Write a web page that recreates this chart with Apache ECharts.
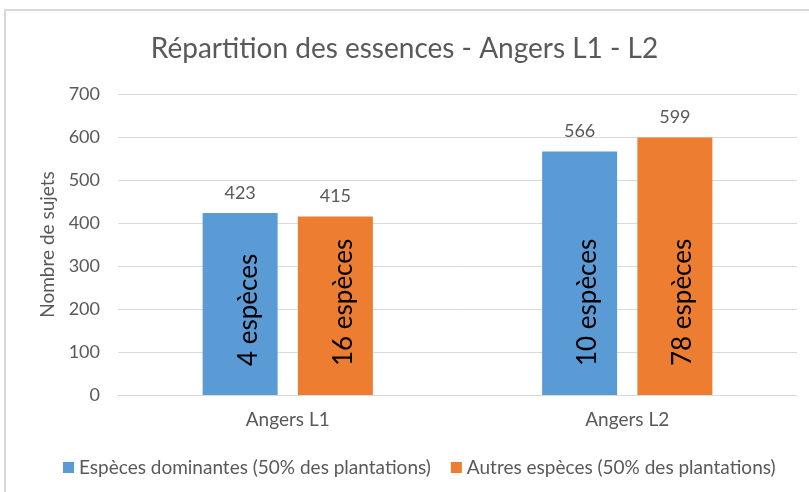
<!DOCTYPE html>
<html>
<head>
<meta charset="utf-8">
<script src="https://cdn.jsdelivr.net/npm/echarts@6/dist/echarts.min.js"></script>
<style>
html,body{margin:0;padding:0;background:#fff;}
#chart{width:809px;height:492px;}
</style>
</head>
<body>
<div id="chart"></div>
<script>
const categories = ['Angers L1', 'Angers L2'];
const seriesNames = ['Espèces dominantes (50% des plantations)', 'Autres espèces (50% des plantations)'];
const dominantes = [423, 566];
const autres = [415, 599];
const dominantesNote = ['4 espèces', '10 espèces'];
const autresNote = ['16 espèces', '78 espèces'];
const yTicks = [0, 100, 200, 300, 400, 500, 600, 700];

const FONT = 'Lato';
const GREY = '#595959';

// Visible bar, carrying the rotated note inside it
function barSeries(name, stack, values, notes, color) {
  return {
    name: name,
    type: 'bar',
    stack: stack,
    barWidth: 75,
    barGap: '27%',
    data: values.map((v, i) => ({ value: v, note: notes[i] })),
    itemStyle: { color: color },
    label: {
      show: true,
      position: 'insideBottom',
      distance: 29,
      rotate: 90,
      align: 'left',
      verticalAlign: 'middle',
      offset: [0, 8],
      color: '#000',
      fontFamily: FONT,
      fontSize: 26,
      formatter: p => p.data.note
    }
  };
}

// Zero-height cap stacked on the bar, carrying the value label above it
function capSeries(name, stack, values) {
  return {
    name: name,
    type: 'bar',
    stack: stack,
    barWidth: 75,
    barGap: '27%',
    silent: true,
    data: values.map(v => ({ value: 0, total: v })),
    itemStyle: { color: 'rgba(0,0,0,0)' },
    label: {
      show: true,
      position: 'top',
      distance: 11,
      color: GREY,
      fontFamily: FONT,
      fontSize: 18,
      formatter: p => String(p.data.total)
    }
  };
}

const chart = echarts.init(document.getElementById('chart'), null, { renderer: 'canvas' });

const option = {
  backgroundColor: '#fff',
  animation: false,
  graphic: [{
    type: 'rect',
    shape: { x: 5, y: 10, width: 830, height: 520 },
    style: { fill: 'none', stroke: '#d9d9d9', lineWidth: 2 },
    silent: true,
    z: -10
  }],
  title: {
    text: 'Répartition des essences - Angers L1 - L2',
    left: 'center',
    top: 35,
    padding: 0,
    textStyle: { fontFamily: FONT, fontSize: 28, fontWeight: 'normal', color: GREY }
  },
  legend: {
    data: seriesNames,
    left: 58,
    top: 453,
    itemWidth: 11,
    itemHeight: 11,
    itemGap: 20,
    icon: 'rect',
    textStyle: { fontFamily: FONT, fontSize: 19, color: GREY }
  },
  grid: {
    left: 118, right: 12, top: 94, bottom: 97,
    outerBoundsMode: 'none'
  },
  xAxis: {
    type: 'category',
    data: categories,
    axisLine: { lineStyle: { color: '#d9d9d9', width: 1 } },
    axisTick: { show: false },
    axisLabel: { fontFamily: FONT, fontSize: 19, color: GREY, margin: 15 }
  },
  yAxis: {
    type: 'value',
    min: yTicks[0],
    max: yTicks[yTicks.length - 1],
    interval: yTicks[1] - yTicks[0],
    name: 'Nombre de sujets',
    nameLocation: 'middle',
    nameGap: 61,
    nameTextStyle: { fontFamily: FONT, fontSize: 19, color: GREY },
    axisLine: { show: false },
    axisTick: { show: false },
    splitLine: { lineStyle: { color: '#d9d9d9', width: 1 } },
    axisLabel: { fontFamily: FONT, fontSize: 18, color: GREY, margin: 18 }
  },
  series: [
    barSeries(seriesNames[0], 'dom', dominantes, dominantesNote, '#5B9BD5'),
    capSeries(seriesNames[0], 'dom', dominantes),
    barSeries(seriesNames[1], 'aut', autres, autresNote, '#ED7D31'),
    capSeries(seriesNames[1], 'aut', autres)
  ]
};

chart.setOption(option);
</script>
</body>
</html>
